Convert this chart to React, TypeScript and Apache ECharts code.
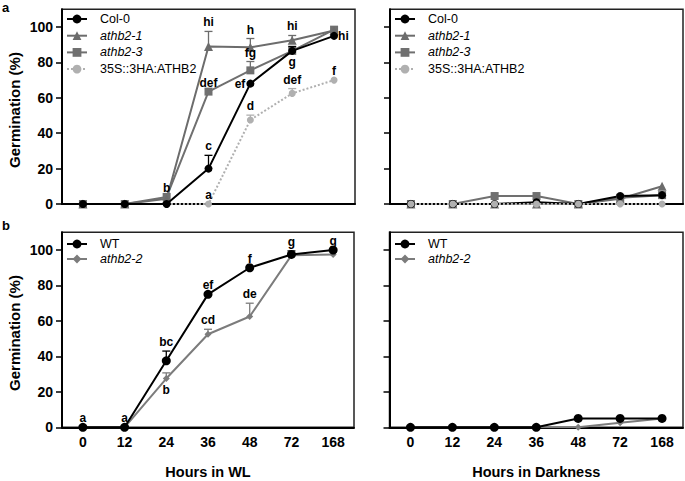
import React, { useEffect, useRef } from 'react';
import * as echarts from 'echarts';

const hours = ['0', '12', '24', '36', '48', '72', '168'];
const yTicks = [0, 20, 40, 60, 80, 100];

// Panel a – white light
const col0WL = [0, 0, 0, 20, 68, 86.5, 95];
const athb21WL = [0, 0, 3, 89, 88.5, 92.5, 98];
const athb23WL = [0, 0, 4, 63.5, 75.5, 86.5, 98.5];
const ha35sWL = [0, 0, 0, 0, 47.5, 62.5, 70];
const col0WLErr = [0, 0, 0, 7.5, 0, 2.5, 0];
const athb21WLErr = [0, 0, 0, 8.5, 5, 2.7, 0];
const athb23WLErr = [0, 0, 0, 0, 5, 0, 0];
const ha35sWLErr = [0, 0, 0, 0, 2.7, 2.7, 0];
const col0WLLetters = ['', '', '', 'c', 'ef', 'g', 'hi'];
const athb21WLLetters = ['', '', '', 'hi', 'h', 'hi', ''];
const athb23WLLetters = ['', '', 'b', 'def', 'fg', '', ''];
const ha35sWLLetters = ['', '', '', 'a', 'd', 'def', 'f'];

// Panel a – darkness
const col0D = [0, 0, 0, 1, 0, 4.5, 5];
const athb21D = [0, 0, 0, 0, 0, 3, 10];
const athb23D = [0, 0, 4.5, 4.5, 0, 3.5, 5];
const ha35sD = [0, 0, 0, 0, 0, 0, 0];

// Panel b – white light
const wtWL = [0, 0, 37.5, 75, 90, 97.5, 100];
const athb22WL = [0, 0, 27.5, 52.5, 62.5, 97, 97.5];
const wtWLErr = [0, 0, 5.5, 0, 0, 2, 0];
const athb22WLErr = [0, 0, 3.2, 2.8, 7.5, 0, 0];
const wtWLLetters = ['a', 'a', 'bc', 'ef', 'f', 'g', 'g'];
const athb22WLLetters = ['', '', 'b', 'cd', 'de', '', ''];

// Panel b – darkness
const wtD = [0, 0, 0, 0, 5, 5, 5];
const athb22D = [0, 0, 0, 0, 0, 2.5, 5];

const namesA = ['Col-0', 'athb2-1', 'athb2-3', '35S::3HA:ATHB2'];
const namesB = ['WT', 'athb2-2'];

const FONT = '"Liberation Sans", Arial, sans-serif';
const C_COL0 = '#000000';
const C_A1 = '#6c6c6c';
const C_A3 = '#707070';
const C_35S = '#b0b0b0';
const C_A22 = '#7c7c7c';

// letter placement: t = above (error bar), l = left, r = right, b = below
const sideCol0 = ['t', 't', 't', 't', 'l', 'b', 'r'];
const sideA22 = ['t', 't', 'b', 't', 't', 't', 't'];
const sideTop = ['t', 't', 't', 't', 't', 't', 't'];

function lineSeries(name: string, idx: number, data: number[], color: string, symbol: string, size: number, type: any = 'solid', width = 2, z = 4) {
  return {
    type: 'line', name, xAxisIndex: idx, yAxisIndex: idx, data,
    symbol, symbolSize: size,
    lineStyle: { color, width, type },
    itemStyle: { color },
    z,
    silent: true,
  };
}

function errSeries(name: string, idx: number, values: number[], errs: number[], letters: string[], sides: string[], color: string) {
  return {
    type: 'custom', name, xAxisIndex: idx, yAxisIndex: idx,
    data: values.map((v, i) => [i, v, errs[i]]),
    z: 6, silent: true,
    renderItem: (params: any, api: any) => {
      const i = api.value(0), v = api.value(1), e = api.value(2);
      const p0 = api.coord([i, v]);
      const p1 = api.coord([i, v + e]);
      const children: any[] = [];
      if (e > 0) {
        children.push({ type: 'line', shape: { x1: p0[0], y1: p0[1], x2: p1[0], y2: p1[1] }, style: { stroke: color, lineWidth: 1.3 } });
        children.push({ type: 'line', shape: { x1: p1[0] - 4, y1: p1[1], x2: p1[0] + 4, y2: p1[1] }, style: { stroke: color, lineWidth: 1.3 } });
      }
      const letter = letters[params.dataIndex];
      if (letter) {
        const side = sides[params.dataIndex];
        let x = p0[0], y = p1[1] - 3, align = 'center', va = 'bottom';
        if (side === 'l') { x = p0[0] - 5; y = p0[1]; align = 'right'; va = 'middle'; }
        if (side === 'r') { x = p0[0] + 4; y = p0[1]; align = 'left'; va = 'middle'; }
        if (side === 'b') { x = p0[0]; y = p0[1] + 5; align = 'center'; va = 'top'; }
        children.push({
          type: 'text',
          style: {
            text: letter, x, y, align, verticalAlign: va, textAlign: align, textVerticalAlign: va,
            fill: '#000', fontSize: 12, fontWeight: 'bold', fontFamily: FONT,
          },
        });
      }
      return { type: 'group', children };
    },
  };
}

const grids = [
  { left: 62, top: 9.3, width: 293, height: 194.7 },
  { left: 390, top: 9.3, width: 293, height: 194.7 },
  { left: 62, top: 232.3, width: 292, height: 195 },
  { left: 389.5, top: 232.3, width: 293.5, height: 195 },
];

export default function App() {
  const ref = useRef<HTMLDivElement>(null);
  useEffect(() => {
    if (!ref.current) return;
    const chart = echarts.init(ref.current, undefined, { renderer: 'svg' });

    const xAxes = grids.map((g, i) => ({
      type: 'category', gridIndex: i, data: hours, boundaryGap: true,
      axisLine: { lineStyle: { color: '#000', width: 2 } },
      axisTick: { alignWithLabel: true, length: 4, lineStyle: { color: '#000', width: 1.5 } },
      axisLabel: { show: i >= 2, fontWeight: 'bold', fontSize: 14, color: '#000', margin: 8, fontFamily: FONT },
      splitLine: { show: false },
      name: i === 2 ? 'Hours in WL' : i === 3 ? 'Hours in Darkness' : '',
      nameLocation: 'middle', nameGap: 37,
      nameTextStyle: { fontWeight: 'bold', fontSize: 14.5, color: '#000', fontFamily: FONT },
    }));
    const yAxes = grids.map((g, i) => ({
      type: 'value', gridIndex: i, min: 0, max: 110,
      axisLine: { show: true, lineStyle: { color: '#000', width: 2 } },
      axisTick: { show: true, length: 6, customValues: yTicks, lineStyle: { color: '#000', width: 1.5 } },
      axisLabel: { show: i % 2 === 0, customValues: yTicks, fontWeight: 'bold', fontSize: 14, color: '#000', margin: 9, fontFamily: FONT },
      splitLine: { show: false },
    }));

    const legendBase = {
      orient: 'vertical', padding: 0, itemWidth: 20, itemHeight: 11,
      selectedMode: false,
      textStyle: {
        fontSize: 12.5, fontFamily: FONT, color: '#000', padding: [0, 0, 0, 8], lineHeight: 14,
        rich: { i: { fontStyle: 'italic', fontSize: 12.5, fontFamily: FONT, color: '#000', lineHeight: 14 } },
      },
      formatter: (n: string) => (n.startsWith('athb') ? `{i|${n}}` : n),
    };

    const option: any = {
      animation: false,
      backgroundColor: '#fff',
      grid: grids.map((g) => ({ ...g, show: true, borderColor: '#222', borderWidth: 1.5, backgroundColor: 'transparent' })),
      xAxis: xAxes,
      yAxis: yAxes,
      legend: [
        { ...legendBase, left: 66, top: 12, itemGap: 2.7, data: namesA },
        { ...legendBase, left: 394, top: 12, itemGap: 2.7, data: namesA },
        { ...legendBase, left: 66, top: 237, itemGap: 1, data: namesB },
        { ...legendBase, left: 394, top: 237, itemGap: 1, data: namesB },
      ],
      graphic: [
        { type: 'text', left: 2, top: 1, style: { text: 'a', fontSize: 13, fontWeight: 'bold', fontFamily: FONT, fill: '#000' } },
        { type: 'text', left: 2, top: 219, style: { text: 'b', fontSize: 13, fontWeight: 'bold', fontFamily: FONT, fill: '#000' } },
        { type: 'text', x: 14, y: 110, rotation: Math.PI / 2, style: { text: 'Germination (%)', align: 'center', verticalAlign: 'middle', textAlign: 'center', textVerticalAlign: 'middle', fontSize: 15, fontWeight: 'bold', fontFamily: FONT, fill: '#000' } },
        { type: 'text', x: 14, y: 333, rotation: Math.PI / 2, style: { text: 'Germination (%)', align: 'center', verticalAlign: 'middle', textAlign: 'center', textVerticalAlign: 'middle', fontSize: 15, fontWeight: 'bold', fontFamily: FONT, fill: '#000' } },
      ],
      series: [
        // panel a, WL
        lineSeries('35S::3HA:ATHB2', 0, ha35sWL, C_35S, 'circle', 7, 'dotted', 2, 3),
        lineSeries('athb2-3', 0, athb23WL, C_A3, 'rect', 8, 'solid', 2, 4),
        lineSeries('athb2-1', 0, athb21WL, C_A1, 'triangle', 9, 'solid', 2, 4),
        lineSeries('Col-0', 0, col0WL, C_COL0, 'circle', 8, 'solid', 2, 5),
        errSeries('e1', 0, col0WL, col0WLErr, col0WLLetters, sideCol0, C_COL0),
        errSeries('e2', 0, athb21WL, athb21WLErr, athb21WLLetters, sideTop, C_A1),
        errSeries('e3', 0, athb23WL, athb23WLErr, athb23WLLetters, sideTop, C_A3),
        errSeries('e4', 0, ha35sWL, ha35sWLErr, ha35sWLLetters, sideTop, C_35S),
        // panel a, dark
        lineSeries('35S::3HA:ATHB2', 1, ha35sD, C_35S, 'circle', 7, 'dotted', 2, 5),
        lineSeries('athb2-3', 1, athb23D, C_A3, 'rect', 8, 'solid', 2, 4),
        lineSeries('athb2-1', 1, athb21D, C_A1, 'triangle', 9, 'solid', 2, 4),
        lineSeries('Col-0', 1, col0D, C_COL0, 'circle', 8, 'solid', 2, 4),
        // panel b, WL
        lineSeries('athb2-2', 2, athb22WL, C_A22, 'diamond', 7, 'solid', 2, 4),
        lineSeries('WT', 2, wtWL, C_COL0, 'circle', 9, 'solid', 2, 5),
        errSeries('e5', 2, wtWL, wtWLErr, wtWLLetters, sideTop, C_COL0),
        errSeries('e6', 2, athb22WL, athb22WLErr, athb22WLLetters, sideA22, C_A22),
        // panel b, dark
        lineSeries('athb2-2', 3, athb22D, C_A22, 'diamond', 7, 'solid', 2, 4),
        lineSeries('WT', 3, wtD, C_COL0, 'circle', 9, 'solid', 2, 5),
      ],
    };
    chart.setOption(option);
    return () => chart.dispose();
  }, []);
  return <div ref={ref} style={{ position: 'absolute', left: 0, top: 0, width: 685, height: 481 }} />;
}
